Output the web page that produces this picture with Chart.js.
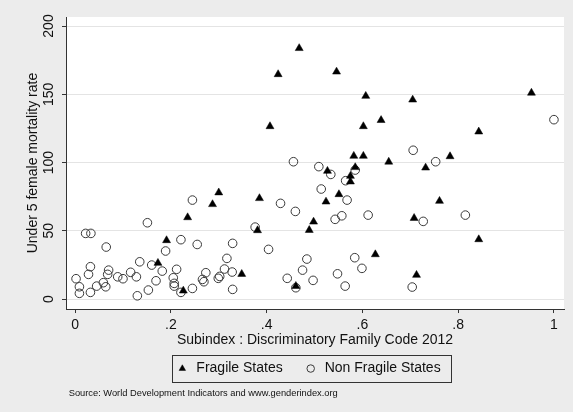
<!DOCTYPE html>
<html>
<head>
<meta charset="utf-8">
<script src="https://cdn.jsdelivr.net/npm/chart.js@4"></script>
<style>
  html, body { margin: 0; padding: 0; background: #ececec; }
  #wrap { position: relative; width: 573px; height: 412px; }
  canvas { display: block; }
</style>
</head>
<body>
<div id="wrap"><canvas id="c" width="573" height="412"></canvas></div>
<script>
// ---- data ----
const seriesNames = ['Fragile States', 'Non Fragile States'];

const fragileX = [0.468, 0.424, 0.546, 0.607, 0.407, 0.602, 0.639, 0.582, 0.602, 0.655,
  0.585, 0.527, 0.953, 0.705, 0.843, 0.783, 0.732, 0.761, 0.708, 0.843,
  0.713, 0.575, 0.575, 0.300, 0.385, 0.551, 0.524, 0.498, 0.489, 0.381,
  0.348, 0.461, 0.627, 0.287, 0.235, 0.191, 0.173, 0.226];
const fragileY = [183.7, 164.6, 166.5, 148.7, 126.5, 126.5, 131, 104.8, 104.8, 100.5,
  96.5, 93.8, 151, 146, 122.6, 104.5, 96.2, 71.8, 59.3, 43.7,
  17.6, 90.1, 86, 78, 73.8, 76.7, 71.3, 56.6, 50.5, 50.3,
  18.3, 9.5, 32.7, 69.4, 59.8, 43, 26.4, 6.1];

const nonFragileX = [0.456, 0.509, 1.0, 0.706, 0.753, 0.727, 0.815, 0.704, 0.534, 0.585,
  0.565, 0.514, 0.429, 0.568, 0.460, 0.557, 0.543, 0.612, 0.376, 0.329,
  0.404, 0.317, 0.484, 0.475, 0.312, 0.328, 0.329, 0.443, 0.461, 0.497,
  0.548, 0.564, 0.584, 0.599, 0.245, 0.151, 0.022, 0.033, 0.221, 0.255,
  0.065, 0.189, 0.135, 0.160, 0.182, 0.212, 0.032, 0.028, 0.002, 0.009,
  0.009, 0.032, 0.045, 0.059, 0.064, 0.070, 0.068, 0.089, 0.100, 0.116,
  0.128, 0.130, 0.153, 0.169, 0.205, 0.207, 0.207, 0.221, 0.245, 0.266,
  0.269, 0.273, 0.299, 0.302];
const nonFragileY = [100.6, 97, 131.4, 109, 100.6, 56.9, 61.5, 8.8, 91.3, 94.5,
  86.7, 80.6, 70.1, 72.5, 64.2, 61, 58.4, 61.5, 52.7, 40.8,
  36.4, 29.8, 29.3, 21.2, 22, 19.8, 7.1, 15.2, 8.3, 13.7,
  18.5, 9.5, 30.3, 22.5, 72.5, 55.9, 48.1, 48.1, 43.5, 40,
  38.1, 35.2, 27.3, 24.9, 20.5, 21.8, 23.7, 18.1, 14.9, 9,
  4.2, 4.9, 9.5, 12, 9, 21.2, 18.1, 16.3, 14.9, 19.6,
  16.3, 2.4, 6.6, 13.4, 15.6, 11.5, 9.5, 4.9, 7.8, 14.4,
  12.7, 19.3, 15.2, 16.6];

const xTicks = [0, 0.2, 0.4, 0.6, 0.8, 1];
const xTickLabels = ['0', '.2', '.4', '.6', '.8', '1'];
const yTicks = [0, 50, 100, 150, 200];
const yTickLabels = ['0', '50', '100', '150', '200'];

const xTitle = 'Subindex : Discriminatory Family Code 2012';
const yTitle = 'Under 5 female mortality rate';
const sourceNote = 'Source: World Development Indicators and www.genderindex.org';

// ---- chart ----
const FONT = 'Liberation Sans, Arial, sans-serif';
const TXT = '#111';

const plotBg = {
  id: 'plotBg',
  beforeDraw(chart) {
    const {ctx, chartArea: a} = chart;
    ctx.save();
    ctx.fillStyle = '#ffffff';
    ctx.fillRect(a.left, a.top, a.right - a.left, a.bottom - a.top);
    ctx.restore();
  }
};

const nudge = {
  id: 'nudge',
  afterLayout(chart) {
    if (chart.legend) { chart.legend.left -= 7; chart.legend.right -= 7; }
    if (chart.titleBlock) { chart.titleBlock.left += 2.7; chart.titleBlock.right += 2.7; }
  }
};

const legendBox = {
  id: 'legendBox',
  afterDraw(chart) {
    const lg = chart.legend;
    if (!lg || !lg.legendHitBoxes || lg.legendHitBoxes.length < 2) return;
    const h0 = lg.legendHitBoxes[0], h1 = lg.legendHitBoxes[lg.legendHitBoxes.length - 1];
    const l = h0.left - 3.5, t = h0.top - 6.5;
    const r = h1.left + h1.width + 10, b = h0.top + h0.height + 6.5;
    const ctx = chart.ctx;
    ctx.save();
    ctx.strokeStyle = '#333';
    ctx.lineWidth = 1;
    ctx.strokeRect(Math.round(l) + 0.5, Math.round(t) + 0.5, Math.round(r - l), Math.round(b - t));
    ctx.restore();
  }
};

new Chart(document.getElementById('c'), {
  type: 'scatter',
  data: {
    datasets: [
      {
        label: seriesNames[0],
        data: fragileX.map((x, i) => ({x: x, y: fragileY[i]})),
        pointStyle: 'triangle',
        pointRadius: 4.6,
        backgroundColor: '#000',
        borderColor: '#000',
        borderWidth: 0.5
      },
      {
        label: seriesNames[1],
        data: nonFragileX.map((x, i) => ({x: x, y: nonFragileY[i]})),
        pointStyle: 'circle',
        pointRadius: 4.3,
        backgroundColor: 'rgba(0,0,0,0)',
        borderColor: '#3a3a3a',
        borderWidth: 1
      }
    ]
  },
  options: {
    responsive: false,
    animation: false,
    devicePixelRatio: 1,
    events: [],
    layout: { padding: { top: 17, right: 9, left: 0, bottom: 0 } },
    scales: {
      x: {
        type: 'linear',
        min: -0.019,
        max: 1.021,
        afterBuildTicks: (s) => { s.ticks = xTicks.map(v => ({value: v})); },
        afterFit: (s) => { s.height = 31.5; },
        ticks: {
          autoSkip: false, maxRotation: 0, minRotation: 0, padding: 4,
          color: TXT, font: { family: FONT, size: 14 },
          callback: (v, i) => xTickLabels[i]
        },
        grid: { drawOnChartArea: false, drawTicks: true, tickLength: 4, tickColor: '#333' },
        border: { display: true, color: '#333', width: 1 },
        title: {
          display: true, text: xTitle, color: TXT,
          font: { family: FONT, size: 14 },
          padding: { top: 0, bottom: -8 }
        }
      },
      y: {
        type: 'linear',
        min: -7.3,
        max: 206.6,
        afterBuildTicks: (s) => { s.ticks = yTicks.map(v => ({value: v})); },
        afterFit: (s) => { s.width = 66; },
        ticks: {
          autoSkip: false, minRotation: 90, maxRotation: 90, crossAlign: 'center', padding: 1,
          color: TXT, font: { family: FONT, size: 14 },
          callback: (v, i) => yTickLabels[i]
        },
        grid: { color: '#e4e4e4', lineWidth: 1, drawTicks: true, tickLength: 4, tickColor: '#333' },
        border: { display: true, color: '#333', width: 1 },
        title: {
          display: true, text: yTitle, color: TXT,
          font: { family: FONT, size: 14 },
          padding: { top: 24.6, bottom: 0 }
        }
      }
    },
    plugins: {
      tooltip: { enabled: false },
      legend: {
        display: true,
        position: 'bottom',
        fullSize: false,
        labels: {
          usePointStyle: true,
          boxWidth: 14,
          boxHeight: 5.3,
          padding: 21,
          color: TXT,
          font: { family: FONT, size: 14 }
        }
      },
      title: {
        display: true,
        text: sourceNote,
        position: 'bottom',
        align: 'start',
        fullSize: false,
        color: TXT,
        font: { family: FONT, size: 9.3, weight: 'normal' },
        padding: { top: 2.5, bottom: 12.8 }
      }
    }
  },
  plugins: [plotBg, nudge, legendBox]
});
</script>
</body>
</html>
